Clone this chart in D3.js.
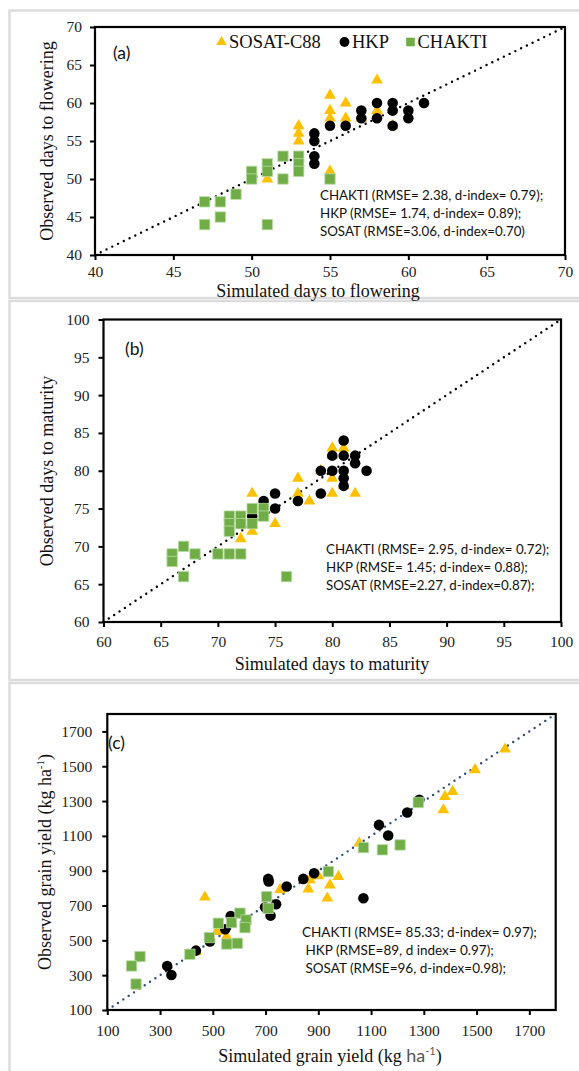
<!DOCTYPE html>
<html>
<head>
<meta charset="utf-8">
<script src="https://cdn.jsdelivr.net/npm/d3@7"></script>
<style>
  html, body { margin: 0; padding: 0; background: #fff; }
  svg { display: block; }
</style>
</head>
<body>
<div id="chart"></div>
<script>
// ---- Days to flowering: [simulated, observed] ----
const flowerSosat = [[53,57],[53,56],[53,55],[55,61],[55,59],[55,58],[55,51],[56,60],[56,58],
  [57,58],[58,63],[58,59],[59,57],[51,50]];
const flowerHkp = [[54,56],[54,55],[54,53],[54,52],[55,57],[56,57],[57,59],[57,58],[58,60],[58,58],
  [59,60],[59,59],[59,57],[60,59],[60,58],[61,60]];
const flowerChakti = [[47,47],[47,44],[48,47],[48,45],[49,48],[50,51],[50,50],[51,52],[51,51],[51,44],
  [52,53],[52,50],[53,53],[53,52],[53,51],[55,50]];

// ---- Days to maturity: [simulated, observed] ----
const maturitySosat = [[73,77],[77,79],[77,77],[78,76],[75,73],[72,71],[73,72],[80,83],[80,79],[80,77],
  [81,83],[81,78],[82,77],[79,80],[80,82]];
const maturityHkp = [[74,76],[73,74],[75,77],[75,75],[77,76],[79,80],[79,77],[80,82],[80,80],[81,84],
  [81,82],[81,80],[81,79],[81,78],[82,82],[82,81],[83,80]];
const maturityChakti = [[66,69],[66,68],[67,70],[67,66],[68,69],[70,69],[71,69],[72,69],[71,74],[71,73],
  [71,72],[72,74],[72,73],[73,75],[73,73],[74,75],[74,74],[76,66]];

// ---- Grain yield (kg/ha): [simulated, observed] ----
const yieldSosat = [[1608,1598],[1494,1479],[1409,1355],[1380,1326],[1374,1249],[1055,1058],[976,866],
  [944,818],[934,742],[862,795],[868,847],[900,870],[755,790],[470,748],[515,550],[552,521],[436,435]];
const yieldHkp = [[1283,1307],[1237,1234],[1130,1163],[1165,1102],[1071,742],[884,885],[843,853],[780,809],
  [710,853],[712,838],[740,707],[719,642],[698,690],[568,640],[547,564],[489,493],[436,441],[327,353],[343,301]];
const yieldChakti = [[1279,1292],[1210,1048],[1143,1020],[1071,1033],[938,895],[704,751],[710,684],[603,656],
  [626,617],[622,573],[571,602],[521,598],[553,479],[593,483],[487,516],[413,420],[224,407],[192,353],[209,249]];

// ---- Axis ticks ----
const flowerTicks = [40, 45, 50, 55, 60, 65, 70];
const maturityTicks = [60, 65, 70, 75, 80, 85, 90, 95, 100];
const yieldTicks = [100, 300, 500, 700, 900, 1100, 1300, 1500, 1700];

// ---- Fit statistics ----
const flowerStats = ["CHAKTI (RMSE= 2.38, d-index= 0.79);", "HKP (RMSE= 1.74, d-index= 0.89);", "SOSAT (RMSE=3.06, d-index=0.70)"];
const maturityStats = ["CHAKTI (RMSE= 2.95, d-index= 0.72);", "HKP (RMSE= 1.45; d-index= 0.88);", "SOSAT (RMSE=2.27, d-index=0.87);"];
const yieldStats = ["CHAKTI (RMSE= 85.33; d-index= 0.97);", "\u00a0HKP (RMSE=89, d index= 0.97);", "\u00a0SOSAT (RMSE=96, d-index=0.98);"];

const legendNames = ["SOSAT-C88", "HKP", "CHAKTI"];

const COLORS = { sosat: "#FFC000", hkp: "#000000", chakti: "#70AD47" };
const SERIF = "'Liberation Serif', 'Times New Roman', serif";
const SANS = "Lato, 'Liberation Sans', sans-serif";

const W = 579, H = 1071;
const svg = d3.select("#chart").append("svg").attr("width", W).attr("height", H);

// light panel frames
[[10.5, 287.5], [301, 379], [683, 420]].forEach(([y, h]) => {
  svg.append("rect").attr("x", 9.5).attr("y", y).attr("width", 620).attr("height", h)
    .attr("fill", "none").attr("stroke", "#dcdcdc").attr("stroke-width", 2.5);
});

const triangle = d3.symbol().type(d3.symbolTriangle).size(60);
const circle = d3.symbol().type(d3.symbolCircle).size(88);
const square = d3.symbol().type(d3.symbolSquare).size(108);

function drawPanel(cfg) {
  const x = d3.scaleLinear().domain(cfg.domain).range([cfg.left, cfg.right]);
  const y = d3.scaleLinear().domain(cfg.domain).range([cfg.bottom, cfg.top]);
  const g = svg.append("g");
  const fmt = d3.format("d");

  // axes
  const ax = g.append("g").attr("transform", `translate(0,${cfg.bottom})`)
    .call(d3.axisBottom(x).tickValues(cfg.ticks).tickFormat(fmt).tickSize(5).tickSizeOuter(0).tickPadding(cfg.pad));
  const ay = g.append("g").attr("transform", `translate(${cfg.left},0)`)
    .call(d3.axisLeft(y).tickValues(cfg.ticks).tickFormat(fmt).tickSize(5).tickSizeOuter(0).tickPadding(cfg.ypad || cfg.pad));
  [ax, ay].forEach(a => {
    a.attr("font-family", SERIF).attr("font-size", 15.5);
    a.select(".domain").remove();
    a.selectAll(".tick line").attr("stroke", "#000").attr("stroke-width", 2);
    a.selectAll(".tick text").style("font-family", SERIF).style("font-size", "15.5px").attr("fill", "#222");
  });

  // 1:1 line
  g.append("line")
    .attr("x1", x(cfg.domain[0])).attr("y1", y(cfg.domain[0]))
    .attr("x2", x(cfg.domain[1])).attr("y2", y(cfg.domain[1]))
    .attr("stroke", cfg.lineColor).attr("stroke-width", 2.4)
    .attr("stroke-dasharray", "0 6.4").attr("stroke-linecap", "round");

  // series: SOSAT under HKP under CHAKTI
  g.append("g").selectAll("path").data(cfg.sosat).join("path")
    .attr("d", triangle).attr("transform", d => `translate(${x(d[0])},${y(d[1])})`)
    .attr("fill", COLORS.sosat);
  g.append("g").selectAll("path").data(cfg.hkp).join("path")
    .attr("d", circle).attr("transform", d => `translate(${x(d[0])},${y(d[1])})`)
    .attr("fill", COLORS.hkp);
  g.append("g").selectAll("path").data(cfg.chakti).join("path")
    .attr("d", square).attr("transform", d => `translate(${x(d[0])},${y(d[1])})`)
    .attr("fill", COLORS.chakti).attr("stroke", "#b9dca4").attr("stroke-width", 0.8);

  // plot frame
  g.append("rect").attr("x", cfg.left).attr("y", cfg.top)
    .attr("width", cfg.right - cfg.left).attr("height", cfg.bottom - cfg.top)
    .attr("fill", "none").attr("stroke", "#000").attr("stroke-width", 2.2);

  // panel letter
  g.append("text").attr("x", cfg.letterPos[0]).attr("y", cfg.letterPos[1])
    .attr("font-family", SANS).attr("font-size", 17.5).attr("fill", "#111").text(cfg.letter);

  // statistics
  g.append("g").selectAll("text").data(cfg.stats).join("text")
    .attr("x", cfg.statPos[0]).attr("y", (d, i) => cfg.statPos[1] + i * cfg.statGap)
    .attr("font-family", SANS).attr("font-size", cfg.statSize).attr("fill", "#111")
    .attr("xml:space", "preserve").text(d => d);

  // axis titles
  const xt = g.append("text").attr("x", cfg.xTitlePos[0]).attr("y", cfg.xTitlePos[1])
    .attr("text-anchor", "middle").attr("font-family", SERIF).attr("font-size", 18).attr("fill", "#111");
  cfg.xTitle(xt);
  const yt = g.append("text")
    .attr("transform", `translate(${cfg.yTitlePos[0]},${cfg.yTitlePos[1]}) rotate(-90)`)
    .attr("text-anchor", "middle").attr("font-family", SERIF).attr("font-size", 18).attr("fill", "#111");
  cfg.yTitle(yt);
  return { x, y };
}

drawPanel({
  domain: [40, 70], ticks: flowerTicks, left: 95, right: 565, top: 27, bottom: 255, pad: 6, ypad: 8,
  lineColor: "#000", sosat: flowerSosat, hkp: flowerHkp, chakti: flowerChakti,
  letter: "(a)", letterPos: [113, 59],
  stats: flowerStats, statPos: [320, 200], statGap: 17.8, statSize: 13.3,
  xTitlePos: [318, 296.5], xTitle: t => t.text("Simulated days to flowering"),
  yTitlePos: [53, 141], yTitle: t => t.text("Observed days to flowering")
});

drawPanel({
  domain: [60, 100], ticks: maturityTicks, left: 103.5, right: 561, top: 319.5, bottom: 622, pad: 9,
  lineColor: "#000", sosat: maturitySosat, hkp: maturityHkp, chakti: maturityChakti,
  letter: "(b)", letterPos: [125, 355],
  stats: maturityStats, statPos: [326, 553.5], statGap: 18, statSize: 13.3,
  xTitlePos: [332, 670], xTitle: t => t.text("Simulated days to maturity"),
  yTitlePos: [53, 471], yTitle: t => t.text("Observed days to maturity")
});

drawPanel({
  domain: [100, 1800], ticks: yieldTicks, left: 107.3, right: 555.7, top: 714, bottom: 1010, pad: 10,
  lineColor: "#2F4B7C", sosat: yieldSosat, hkp: yieldHkp, chakti: yieldChakti,
  letter: "(c)", letterPos: [108, 749],
  stats: yieldStats, statPos: [302, 937], statGap: 18, statSize: 13.5,
  xTitlePos: [330, 1062], xTitle: t => {
    t.append("tspan").text("Simulated grain yield (kg ");
    t.append("tspan").attr("font-family", SANS).attr("fill", "#555").text("ha");
    t.append("tspan").attr("font-family", SANS).attr("fill", "#555").attr("font-size", 11).attr("dy", -7).text("-1");
    t.append("tspan").attr("dy", 7).text(")");
  },
  yTitlePos: [51, 862], yTitle: t => {
    t.append("tspan").text("Observed grain yield (kg ha");
    t.append("tspan").attr("font-size", 11).attr("dy", -7).text("-1");
    t.append("tspan").attr("dy", 7).text(")");
  }
});

// legend for panel (a)
const legend = svg.append("g").attr("font-family", SERIF).attr("font-size", 18.5).attr("fill", "#111");
const legendItems = [
  { name: legendNames[0], sym: d3.symbol().type(d3.symbolTriangle).size(48), color: COLORS.sosat, mx: 221.5, tx: 229 },
  { name: legendNames[1], sym: d3.symbol().type(d3.symbolCircle).size(76), color: COLORS.hkp, mx: 344.5, tx: 352 },
  { name: legendNames[2], sym: d3.symbol().type(d3.symbolSquare).size(74), color: COLORS.chakti, mx: 410.5, tx: 417.5 }
];
legendItems.forEach(it => {
  legend.append("path").attr("d", it.sym).attr("transform", `translate(${it.mx},42)`).attr("fill", it.color);
  legend.append("text").attr("x", it.tx).attr("y", 48).text(it.name);
});
</script>
</body>
</html>
